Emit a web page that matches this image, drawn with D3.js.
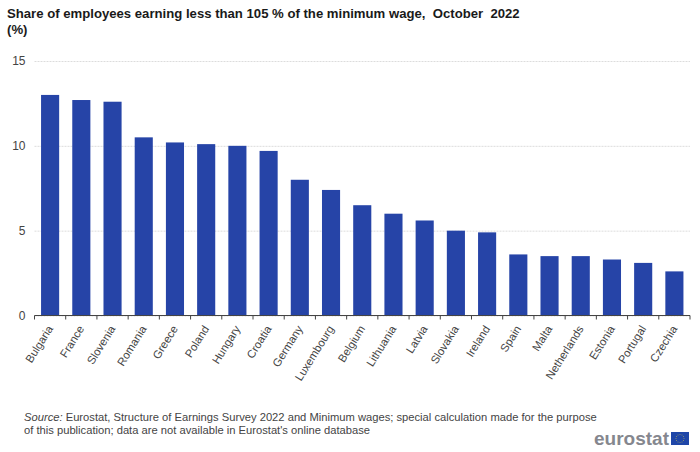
<!DOCTYPE html>
<html>
<head>
<meta charset="utf-8">
<script src="https://cdn.jsdelivr.net/npm/d3@7"></script>
<style>
  html, body { margin: 0; padding: 0; background: #fff; }
  text { font-family: "Liberation Sans", Arial, sans-serif; }
</style>
</head>
<body>
<div id="chart"></div>
<script>
// values
const countries = ["Bulgaria", "France", "Slovenia", "Romania", "Greece", "Poland", "Hungary", "Croatia", "Germany", "Luxembourg", "Belgium", "Lithuania", "Latvia", "Slovakia", "Ireland", "Spain", "Malta", "Netherlands", "Estonia", "Portugal", "Czechia"];
const shares = [13.0, 12.7, 12.6, 10.5, 10.2, 10.1, 10.0, 9.7, 8.0, 7.4, 6.5, 6.0, 5.6, 5.0, 4.9, 3.6, 3.5, 3.5, 3.3, 3.1, 2.6];
const yTicks = [0, 5, 10, 15];
const titleLines = ["Share of employees earning less than 105 % of the minimum wage,  October  2022", "(%)"];

const width = 700, height = 452;
const plotLeft = 34.5, plotRight = 690, plotTop = 61, plotBottom = 315.5;

const svg = d3.select("#chart").append("svg")
  .attr("width", width)
  .attr("height", height)
  .style("display", "block");

const x = d3.scaleBand().domain(countries).range([plotLeft, plotRight]).paddingInner(0.42).paddingOuter(0.21);
const y = d3.scaleLinear().domain([0, 15]).range([plotBottom, plotTop]);

// title
svg.append("g").selectAll("text")
  .data(titleLines)
  .join("text")
  .attr("x", 7)
  .attr("y", (d, i) => 18 + i * 16)
  .attr("font-size", 13.15)
  .attr("font-weight", "bold")
  .attr("fill", "#1a1a1a")
  .style("white-space", "pre")
  .text(d => d);

// gridlines + y labels
const yAxis = svg.append("g")
  .attr("transform", `translate(${plotLeft},0)`)
  .call(d3.axisLeft(y).tickValues(yTicks).tickSize(-(plotRight - plotLeft)).tickPadding(9));
yAxis.select(".domain").remove();
yAxis.selectAll(".tick line")
  .attr("stroke", "#dcdcdc")
  .attr("stroke-dasharray", "2,1")
  .attr("stroke-width", 1);
yAxis.selectAll(".tick text")
  .attr("font-size", 12)
  .attr("font-family", '"Liberation Sans", Arial, sans-serif')
  .attr("fill", "#444");

// bars
svg.append("g").selectAll("rect")
  .data(countries)
  .join("rect")
  .attr("x", d => x(d))
  .attr("y", (d, i) => y(shares[i]))
  .attr("width", x.bandwidth())
  .attr("height", (d, i) => y(0) - y(shares[i]))
  .attr("fill", "#2644a7");

// x axis, ticks sit between the categories
const step = x.step();
const xAxis = svg.append("g").attr("transform", `translate(0,${plotBottom})`);
xAxis.append("line")
  .attr("x1", plotLeft).attr("x2", plotRight)
  .attr("stroke", "#444").attr("stroke-width", 1);
xAxis.selectAll("line.tick")
  .data(d3.range(countries.length + 1))
  .join("line")
  .attr("class", "tick")
  .attr("x1", i => plotLeft + i * step)
  .attr("x2", i => plotLeft + i * step)
  .attr("y1", 0).attr("y2", 4)
  .attr("stroke", "#444");
xAxis.selectAll("text")
  .data(countries)
  .join("text")
  .attr("transform", d => `translate(${x(d) + x.bandwidth() / 2},11) rotate(-58)`)
  .attr("text-anchor", "end")
  .attr("dy", "0.35em")
  .attr("font-size", 11.3)
  .attr("fill", "#444")
  .text(d => d);

// source note
const note = svg.append("g").attr("font-size", 11.2).attr("fill", "#444");
note.append("text").attr("x", 24).attr("y", 421)
  .html('<tspan font-style="italic">Source:</tspan> Eurostat, Structure of Earnings Survey 2022 and Minimum wages; special calculation made for the purpose');
note.append("text").attr("x", 24).attr("y", 433.5)
  .text("of this publication; data are not available in Eurostat's online database");

// eurostat logo
svg.append("text")
  .attr("x", 594).attr("y", 444.5)
  .attr("font-size", 19)
  .attr("font-weight", "bold")
  .attr("fill", "#85878e")
  .text("eurostat");
const flag = svg.append("g").attr("transform", "translate(671,432)");
flag.append("rect").attr("width", 18).attr("height", 13).attr("fill", "#1f46a8");
flag.selectAll("circle")
  .data(d3.range(12))
  .join("circle")
  .attr("cx", i => 9 + 4 * Math.cos(i * Math.PI / 6))
  .attr("cy", i => 6.5 + 4 * Math.sin(i * Math.PI / 6))
  .attr("r", 0.45)
  .attr("fill", "#d8c84a");
</script>
</body>
</html>
